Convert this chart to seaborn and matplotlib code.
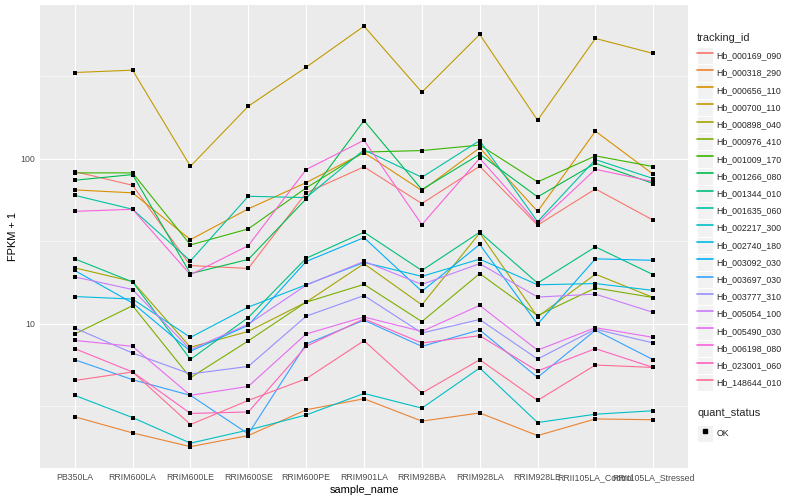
import numpy as np
import pandas as pd
import matplotlib
matplotlib.use("Agg")
import matplotlib.pyplot as plt
import seaborn as sns
from matplotlib.lines import Line2D
from matplotlib.patches import Rectangle
from matplotlib.legend_handler import HandlerLine2D

# ---------------- data (FPKM + 1) ----------------
samples = ["PB350LA", "RRIM600LA", "RRIM600LE", "RRIM600SE", "RRIM600PE",
           "RRIM901LA", "RRIM928BA", "RRIM928LA", "RRIM928LE",
           "RRII105LA_Control", "RRII105LA_Stressed"]

tracking_ids = ["Hb_000169_090", "Hb_000318_290", "Hb_000656_110", "Hb_000700_110",
                "Hb_000898_040", "Hb_000976_410", "Hb_001009_170", "Hb_001266_080",
                "Hb_001344_010", "Hb_001635_060", "Hb_002217_300", "Hb_002740_180",
                "Hb_003092_030", "Hb_003697_030", "Hb_003777_310", "Hb_005054_100",
                "Hb_005490_030", "Hb_006198_080", "Hb_023001_060", "Hb_148644_010"]

hb_000169_090 = [83.4, 68.9, 22.5, 21.6, 62.0, 89.1, 53.4, 89.8, 39.5, 65.5, 42.3]
hb_000318_290 = [2.73, 2.18, 1.80, 2.10, 3.01, 3.51, 2.57, 2.88, 2.10, 2.65, 2.62]
hb_000656_110 = [64.6, 62.0, 32.3, 49.6, 71.5, 108.7, 64.0, 116.1, 47.9, 146.4, 80.3]
hb_000700_110 = [332, 343, 89.8, 207.5, 357.6, 633.8, 252.3, 564.5, 170.7, 533.9, 433]
hb_000898_040 = [21.8, 18.0, 7.2, 8.98, 13.5, 23.1, 13.0, 35.4, 11.0, 19.95, 14.4]
hb_000976_410 = [8.66, 12.85, 4.71, 7.87, 13.5, 17.3, 10.3, 20.1, 11.2, 16.45, 14.4]
hb_001009_170 = [81.9, 81.9, 30.0, 37.5, 66.4, 109.5, 111.8, 120.7, 72.2, 103.8, 89.4]
hb_001266_080 = [73.9, 80.0, 20.1, 24.5, 57.0, 170.0, 64.9, 106.2, 58.6, 93.6, 70.6]
hb_001344_010 = [24.7, 17.9, 6.08, 10.9, 24.9, 35.8, 21.0, 35.8, 17.6, 29.2, 19.8]
hb_001635_060 = [59.9, 49.3, 24.0, 59.1, 58.0, 112.9, 77.0, 128.5, 41.5, 98.6, 75.6]
hb_002217_300 = [3.68, 2.70, 1.89, 2.27, 2.80, 3.78, 3.08, 5.39, 2.52, 2.83, 2.97]
hb_002740_180 = [14.6, 14.1, 8.26, 12.6, 17.2, 23.5, 19.35, 24.6, 17.2, 17.5, 15.9]
hb_003092_030 = [21.0, 13.35, 6.81, 9.79, 23.8, 33.2, 15.7, 30.2, 9.93, 24.7, 24.2]
hb_003697_030 = [6.05, 4.58, 3.68, 2.15, 7.53, 10.5, 7.29, 9.16, 4.73, 9.13, 6.05]
hb_003777_310 = [9.42, 6.64, 4.96, 5.51, 11.1, 14.8, 8.78, 10.6, 6.11, 9.26, 7.64]
hb_005054_100 = [19.2, 16.1, 6.96, 9.93, 17.1, 23.85, 17.3, 23.1, 14.5, 15.1, 11.7]
hb_005490_030 = [7.92, 7.29, 3.68, 4.17, 8.66, 10.98, 8.98, 12.9, 6.91, 9.46, 8.26]
hb_006198_080 = [47.9, 49.3, 19.8, 29.7, 85.8, 129.1, 39.8, 100.4, 40.4, 86.1, 72.5]
hb_023001_060 = [7.06, 5.10, 2.86, 2.92, 7.29, 10.7, 7.64, 8.46, 5.17, 7.06, 5.43]
hb_148644_010 = [4.53, 5.10, 2.45, 3.43, 4.64, 7.89, 3.80, 6.05, 3.43, 5.62, 5.43]

series = [hb_000169_090, hb_000318_290, hb_000656_110, hb_000700_110, hb_000898_040,
          hb_000976_410, hb_001009_170, hb_001266_080, hb_001344_010, hb_001635_060,
          hb_002217_300, hb_002740_180, hb_003092_030, hb_003697_030, hb_003777_310,
          hb_005054_100, hb_005490_030, hb_006198_080, hb_023001_060, hb_148644_010]

quant_status = "OK"

palette = ["#F8766D", "#EA8331", "#D89000", "#C09B00", "#A3A500", "#7CAE00",
           "#39B600", "#00BB4E", "#00BF7D", "#00C1A3", "#00BFC4", "#00BAE0",
           "#00B0F6", "#35A2FF", "#9590FF", "#C77CFF", "#E76BF3", "#FA62DB",
           "#FF62BC", "#FF6C91"]

rows = []
for tid, vals in zip(tracking_ids, series):
    for s, v in zip(samples, vals):
        rows.append({"sample_name": s, "tracking_id": tid, "FPKM": v,
                     "quant_status": quant_status})
df = pd.DataFrame(rows)

# ---------------- style ----------------
sns.set_theme(style="darkgrid")
plt.rcParams["font.family"] = ["Liberation Sans", "DejaVu Sans"]

fig = plt.figure(figsize=(8, 5), dpi=100)
ax = fig.add_axes([40 / 800, 32 / 500, 648 / 800, 463 / 500])
ax.set_facecolor("#EBEBEB")
for sp in ax.spines.values():
    sp.set_visible(False)

sns.lineplot(data=df, x="sample_name", y="FPKM", hue="tracking_id",
             hue_order=tracking_ids, palette=palette, sort=False,
             estimator=None, legend=False, linewidth=0.8, ax=ax)
sns.scatterplot(data=df, x="sample_name", y="FPKM", color="black", marker="s",
                s=9, linewidth=0, legend=False, ax=ax, zorder=3)

ax.set_yscale("log")
ax.set_ylim(10 ** 0.126, 10 ** 2.93)
ax.set_xlim(-0.6, len(samples) - 1 + 0.6)
ax.set_yticks([10, 100])
ax.set_yticklabels(["10", "100"])
ax.set_yticks([10 ** 0.5, 10 ** 1.5, 10 ** 2.5], minor=True)
ax.yaxis.set_minor_formatter(matplotlib.ticker.NullFormatter())
ax.grid(True, which="major", color="white", linewidth=0.8)
ax.grid(True, which="minor", axis="y", color="white", linewidth=0.4)
ax.tick_params(axis="both", which="major", length=2, width=0.6, color="#333333",
               labelsize=6.3, labelcolor="#4D4D4D", pad=1.5)
ax.tick_params(axis="both", which="minor", length=0)
ax.set_xlabel("sample_name", fontsize=7.9, color="black", labelpad=2)
ax.set_ylabel("FPKM + 1", fontsize=7.9, color="black", labelpad=2)


class KeyHandler(HandlerLine2D):
    def create_artists(self, legend, orig_handle, xdescent, ydescent, width,
                       height, fontsize, trans):
        r = Rectangle((-xdescent, -ydescent), width, height, facecolor="#F2F2F2",
                      edgecolor="white", linewidth=0.8, transform=trans)
        arts = super().create_artists(legend, orig_handle, xdescent, ydescent,
                                      width, height, fontsize, trans)
        return [r] + list(arts)


common = dict(loc="upper left", frameon=False, fontsize=6.3, title_fontsize=7.9,
              handlelength=1.83, handleheight=2.65, labelspacing=0,
              handletextpad=0.4, borderpad=0, borderaxespad=0, alignment="left",
              handler_map={Line2D: KeyHandler()})

handles = [Line2D([], [], color=c, linewidth=1.2) for c in palette]
leg1 = fig.legend(handles, tracking_ids, title="tracking_id",
                  bbox_to_anchor=(697 / 800, 1 - 33 / 500), **common)
leg1._legend_box.sep = 3
leg2 = fig.legend([Line2D([], [], color="black", marker="s", markersize=2.5,
                          linestyle="")], [quant_status], title="quant_status",
                  bbox_to_anchor=(697 / 800, 1 - 408 / 500), **common)
leg2._legend_box.sep = 5

fig.savefig("out.png", dpi=100, facecolor="white")
